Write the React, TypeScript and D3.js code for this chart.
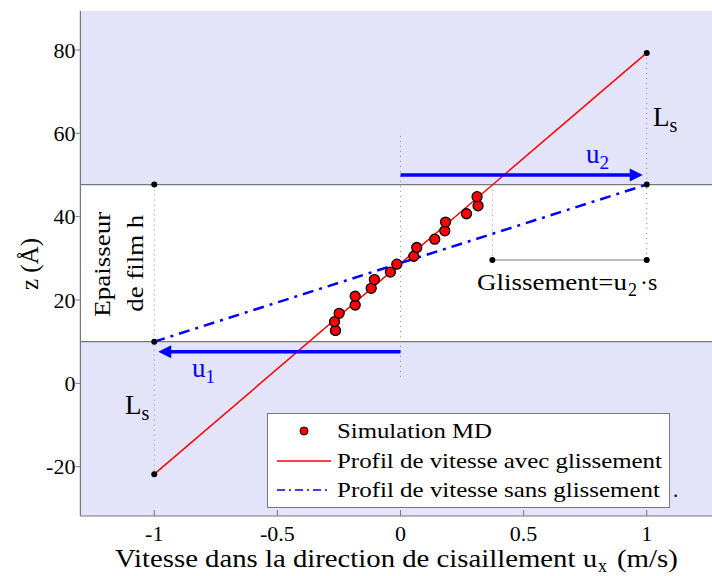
import React from "react";
import * as d3 from "d3";

const simX = [-0.264, -0.268, -0.249, -0.184, -0.184, -0.119, -0.106, -0.041, -0.015, 0.054, 0.066, 0.139, 0.18, 0.183, 0.268, 0.315, 0.311];
const simZ = [12.7, 14.8, 16.8, 18.8, 20.9, 22.8, 24.9, 26.7, 28.6, 30.5, 32.6, 34.6, 36.6, 38.7, 40.7, 42.6, 44.8];

const slipX = [-1, 1];
const slipZ = [-21.8, 79.3];
const noSlipX = [-1, 1];
const noSlipZ = [10, 47.7];

const filmBottom = 10;
const filmTop = 47.7;
const glissX = [0.373, 1];
const glissZ = 29.6;
const u2Z = 50;
const u1Z = 7.6;
const zeroLineZ = [0.8, 59.4];

const xTicks = [-1, -0.5, 0, 0.5, 1];
const yTicks = [-20, 0, 20, 40, 60, 80];
const xTickLabels = ["-1", "-0.5", "0", "0.5", "1"];
const yTickLabels = ["-20", "0", "20", "40", "60", "80"];

const legendLabels = [
  "Simulation MD",
  "Profil de vitesse avec glissement",
  "Profil de vitesse sans glissement",
];
const legendWidths = [155, 325, 323];

const FONT = "'Liberation Serif', serif";

export default function App() {
  const x = d3.scaleLinear().domain([-1.3, 1.3]).range([80.4, 720.6]);
  const y = d3.scaleLinear().domain([-31.84, 89.36]).range([516, 11]);
  const [x0, x1] = x.range();
  const yTop = 11;
  const yBot = 516;
  const shade = "#e3e3fa";
  const gray = "#777";
  const line = d3.line<[number, number]>().x((d) => x(d[0])).y((d) => y(d[1]));

  const dot = (cx: number, cz: number, key: string) => (
    <circle key={key} cx={x(cx)} cy={y(cz)} r={3} fill="#000" />
  );

  const arrowHead = (tipX: number, yy: number, dir: number) => {
    const L = 13;
    const W = 6.5;
    return `M${tipX},${yy} L${tipX - dir * L},${yy - W} L${tipX - dir * L},${yy + W} Z`;
  };

  const u2Tip = x(1) - 4;
  const u1Tip = x(-1) + 4;
  const adj = "spacingAndGlyphs";

  return (
    <svg width={712} height={576} style={{ position: "absolute", left: 0, top: 0 }} fontFamily={FONT}>
      <defs>
        <clipPath id="plotclip">
          <rect x={x0} y={yTop} width={x1 - x0} height={yBot - yTop} />
        </clipPath>
      </defs>
      <rect x={0} y={0} width={712} height={576} fill="#fff" />
      <g clipPath="url(#plotclip)">
        <rect x={x0} y={yTop} width={x1 - x0} height={y(filmTop) - yTop} fill={shade} />
        <rect x={x0} y={y(filmBottom)} width={x1 - x0} height={yBot - y(filmBottom)} fill={shade} />
        <line x1={x0} x2={x1} y1={y(filmTop)} y2={y(filmTop)} stroke={gray} strokeWidth={1.2} />
        <line x1={x0} x2={x1} y1={y(filmBottom)} y2={y(filmBottom)} stroke={gray} strokeWidth={1.2} />

        {/* dotted guides */}
        <line x1={x(-1)} x2={x(-1)} y1={y(filmTop)} y2={y(slipZ[0])} stroke="#888" strokeWidth={1} strokeDasharray="1,4" />
        <line x1={x(1)} x2={x(1)} y1={y(slipZ[1])} y2={y(glissZ)} stroke="#888" strokeWidth={1} strokeDasharray="1,4" />
        <line x1={x(0)} x2={x(0)} y1={y(zeroLineZ[1])} y2={y(zeroLineZ[0])} stroke="#888" strokeWidth={1} strokeDasharray="1,4" />
        <line x1={x(glissX[0])} x2={x(glissX[0])} y1={y(filmTop)} y2={y(glissZ)} stroke="#888" strokeWidth={1} strokeDasharray="1,4" />

        {/* glissement segment */}
        <line x1={x(glissX[0])} x2={x(glissX[1])} y1={y(glissZ)} y2={y(glissZ)} stroke={gray} strokeWidth={1.2} />

        {/* lines */}
        <path d={line(slipX.map((v, i) => [v, slipZ[i]]) as [number, number][]) || ""} stroke="#ff0000" strokeWidth={1.5} fill="none" />
        <path d={line(noSlipX.map((v, i) => [v, noSlipZ[i]]) as [number, number][]) || ""} stroke="#0000ff" strokeWidth={2.5} fill="none" strokeDasharray="11,6,3,6" />

        {/* arrows */}
        <line x1={x(0)} x2={u2Tip - 10} y1={y(u2Z)} y2={y(u2Z)} stroke="#0000ff" strokeWidth={3.5} />
        <path d={arrowHead(u2Tip, y(u2Z), 1)} fill="#0000ff" />
        <line x1={x(0)} x2={u1Tip + 10} y1={y(u1Z)} y2={y(u1Z)} stroke="#0000ff" strokeWidth={3.5} />
        <path d={arrowHead(u1Tip, y(u1Z), -1)} fill="#0000ff" />

        {/* scatter */}
        {simX.map((v, i) => (
          <circle key={"s" + i} cx={x(v)} cy={y(simZ[i])} r={5} fill="#ff0000" stroke="#000" strokeWidth={1.3} />
        ))}

        {/* point markers */}
        {dot(-1, filmTop, "d1")}
        {dot(-1, filmBottom, "d2")}
        {dot(-1, slipZ[0], "d3")}
        {dot(1, slipZ[1], "d4")}
        {dot(1, filmTop, "d5")}
        {dot(1, glissZ, "d6")}
        {dot(glissX[0], glissZ, "d7")}
      </g>

      {/* axes */}
      <line x1={x0} x2={x0} y1={yTop} y2={yBot} stroke={gray} strokeWidth={1.2} />
      <line x1={x0} x2={712} y1={yBot} y2={yBot} stroke={gray} strokeWidth={1.2} />
      {xTicks.map((t, i) => (
        <g key={"xt" + i}>
          <line x1={x(t)} x2={x(t)} y1={yBot} y2={yBot - 6} stroke={gray} strokeWidth={1} />
          <text x={x(t)} y={541} textAnchor="middle" fontSize={22} fill="#000">{xTickLabels[i]}</text>
        </g>
      ))}
      {yTicks.map((t, i) => (
        <g key={"yt" + i}>
          <line x1={x0} x2={x0 - 5} y1={y(t)} y2={y(t)} stroke={gray} strokeWidth={1} />
          <text x={x0 - 5} y={y(t) + 7.5} textAnchor="end" fontSize={22} fill="#000">{yTickLabels[i]}</text>
        </g>
      ))}

      {/* axis titles */}
      <text x={115} y={567} fontSize={25} fill="#000" textLength={482} lengthAdjust={adj}>Vitesse dans la direction de cisaillement u</text>
      <text x={598} y={572} fontSize={18} fill="#000">x</text>
      <text x={617} y={567} fontSize={25} fill="#000" textLength={61} lengthAdjust={adj}>(m/s)</text>
      <text transform="translate(38,264) rotate(-90)" textAnchor="middle" fontSize={25} fill="#000">z (Å)</text>

      {/* annotations */}
      <text transform="translate(110,316.7) rotate(-90)" fontSize={23} fill="#000" textLength={105} lengthAdjust={adj}>Epaisseur</text>
      <text transform="translate(143,311.7) rotate(-90)" fontSize={23} fill="#000" textLength={97} lengthAdjust={adj}>de film h</text>

      <text x={125} y={414} fontSize={27} fill="#000">L<tspan fontSize={20} dy={6}>s</tspan></text>
      <text x={653} y={126} fontSize={27} fill="#000">L<tspan fontSize={20} dy={6}>s</tspan></text>

      <text x={586} y={163} fontSize={27} fill="#0000ff">u<tspan fontSize={19} dy={6}>2</tspan></text>
      <text x={192} y={377} fontSize={27} fill="#0000ff">u<tspan fontSize={19} dy={6}>1</tspan></text>

      <text x={477} y={290} fontSize={24} fill="#000" textLength={150} lengthAdjust={adj}>Glissement=u</text>
      <text x={628} y={296} fontSize={18} fill="#000">2</text>
      <text x={640} y={290} fontSize={24} fill="#000">·s</text>

      {/* legend */}
      <rect x={267.5} y={413.5} width={402} height={94} fill="#fff" stroke={gray} strokeWidth={1} />
      <circle cx={304} cy={431} r={4} fill="#ff0000" stroke="#000" strokeWidth={1} />
      <line x1={277} x2={331} y1={461} y2={461} stroke="#ff0000" strokeWidth={1.5} />
      <line x1={277} x2={331} y1={490} y2={490} stroke="#0000ff" strokeWidth={1.5} strokeDasharray="8,4,2,4" />
      {legendLabels.map((l, i) => (
        <text key={"lg" + i} x={337} y={438 + i * 29.5} fontSize={22} fill="#000" textLength={legendWidths[i]} lengthAdjust={adj}>{l}</text>
      ))}
      <text x={673} y={497} fontSize={21} fill="#000">.</text>
    </svg>
  );
}
